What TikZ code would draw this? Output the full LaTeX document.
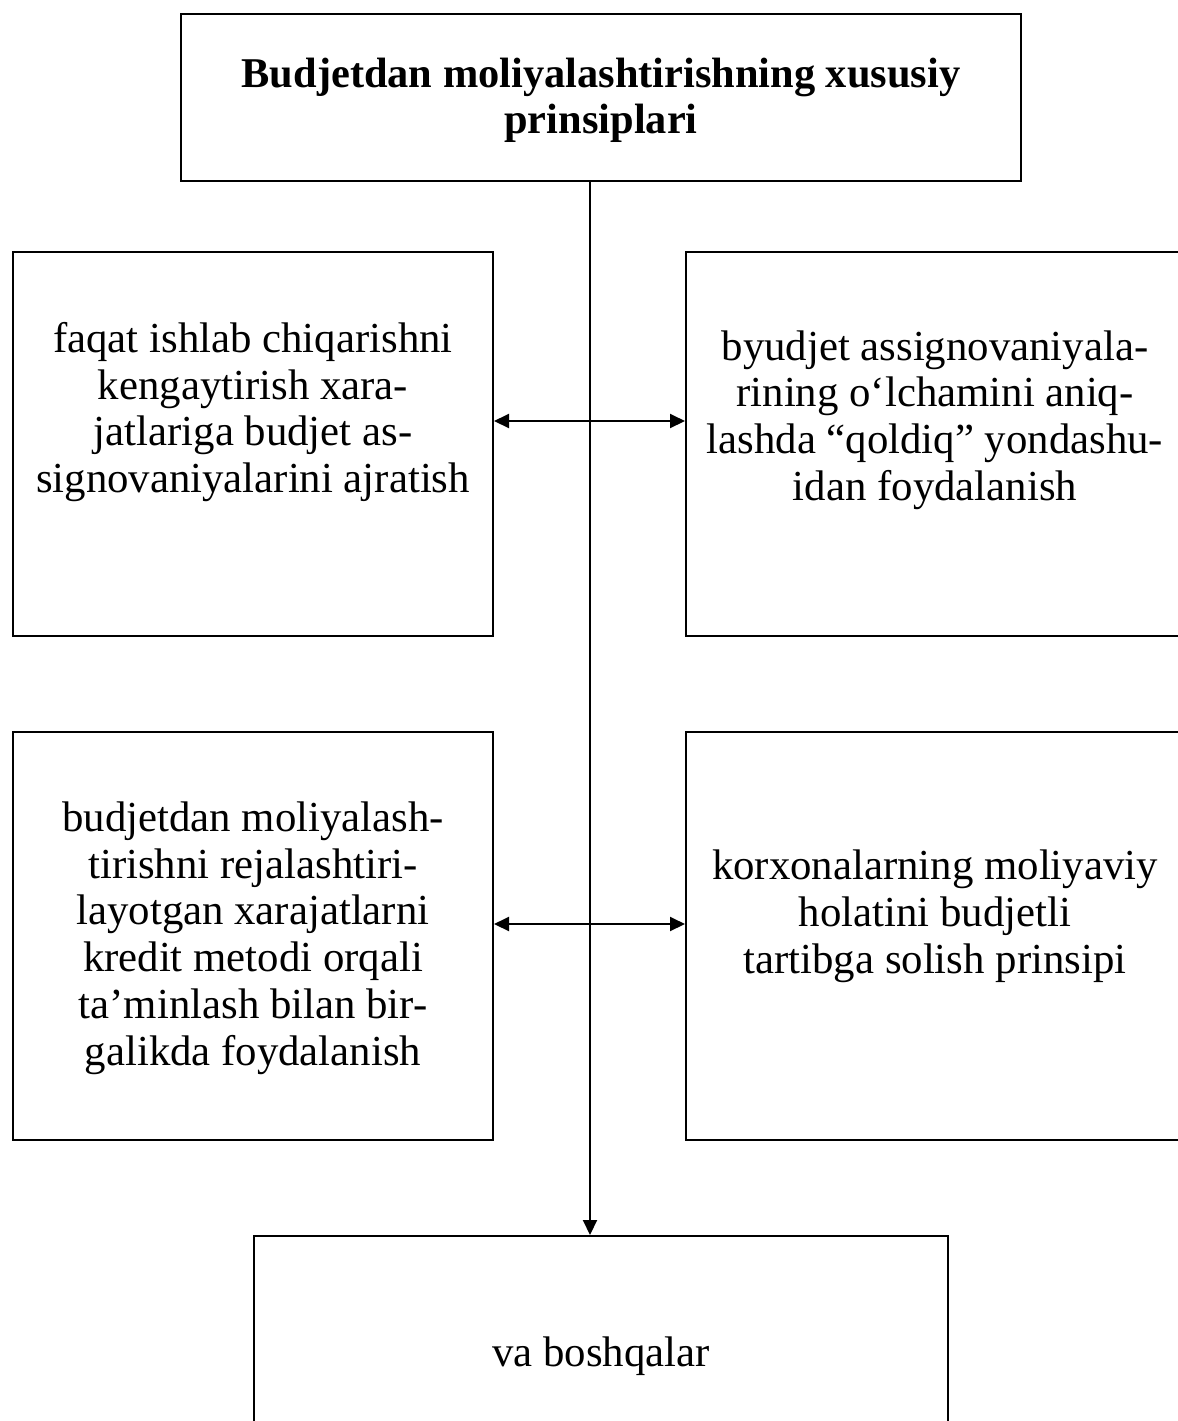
\documentclass[tikz,border=0pt]{standalone}
\usepackage{fontspec}
\setmainfont{Liberation Serif}
\usetikzlibrary{arrows.meta}
\begin{document}
\begin{tikzpicture}[x=0.5pt,y=-0.5pt,
  box/.style={draw,line width=1pt,inner sep=0pt},
  txt/.style={align=center,inner sep=0pt,font=\fontsize{21.4}{23.4}\selectfont},
  conn/.style={line width=1pt}]
\useasboundingbox (0,0) rectangle (1178,1421);
\clip (0,0) rectangle (1178,1421);
% boxes
\node[box,minimum width=420pt,minimum height=83.5pt] (top) at (601,97.5) {};
\node[box,minimum width=240pt,minimum height=192pt] (l1) at (253,444) {};
\node[box,minimum width=252pt,minimum height=192pt] (r1) at (938,444) {};
\node[box,minimum width=240pt,minimum height=204pt] (l2) at (253,936) {};
\node[box,minimum width=252pt,minimum height=204pt] (r2) at (938,936) {};
\node[box,minimum width=347pt,minimum height=102pt] (bot) at (601,1338) {};
% texts
\node[txt,font=\fontsize{21.2}{23}\selectfont\bfseries] (ttop) at (601,100) {Budjetdan moliyalashtirishning xususiy\\prinsiplari};
\node[txt] (tl1) at (253,412) {faqat ishlab chiqarishni\\kengaytirish xara-\\jatlariga budjet as-\\signovaniyalarini ajratish};
\node[txt] (tr1) at (935,420) {byudjet assignovaniyala-\\rining o‘lchamini aniq-\\lashda “qoldiq” yondashu-\\idan foydalanish};
\node[txt] (tl2) at (253,938) {budjetdan moliyalash-\\tirishni rejalashtiri-\\layotgan xarajatlarni\\kredit metodi orqali\\ta’minlash bilan bir-\\galikda foydalanish};
\node[txt] (tr2) at (935,916) {korxonalarning moliyaviy\\holatini budjetli\\tartibga solish prinsipi};
\node[txt] (tbot) at (601,1356) {va boshqalar};
% connectors
\coordinate (vtop) at (590,181);
\coordinate (a1) at (590,421);
\coordinate (a2) at (590,924);
\draw[conn,-{Triangle[length=7.5pt,width=7pt]}] (vtop) -- (vtop |- bot.north);
\draw[conn,{Triangle[length=7.5pt,width=7pt]}-{Triangle[length=7.5pt,width=7pt]}] (l1.east |- a1) -- (r1.west |- a1);
\draw[conn,{Triangle[length=7.5pt,width=7pt]}-{Triangle[length=7.5pt,width=7pt]}] (l2.east |- a2) -- (r2.west |- a2);
\end{tikzpicture}
\end{document}
